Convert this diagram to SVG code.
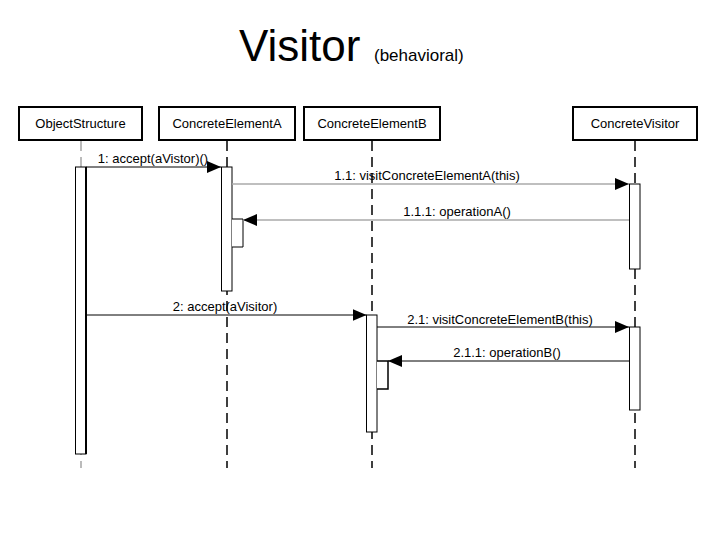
<svg xmlns="http://www.w3.org/2000/svg" width="720" height="540" viewBox="0 0 720 540">
<defs>
<style>
.box{fill:#fff;stroke:#000;stroke-width:2}
.lbl{font-family:"Liberation Sans",Arial,sans-serif;font-size:13px;fill:#000;text-anchor:middle}
.life{stroke:#000;stroke-width:1.5;stroke-dasharray:10 6;fill:none}
.lifeg{stroke:#bbb;stroke-width:2;stroke-dasharray:10 6;fill:none}
.act{fill:#fff;stroke:#000;stroke-width:1}
.msg{stroke:#000;stroke-width:1;fill:none}
.msgg{stroke:#aaa;stroke-width:1.5;fill:none}
</style>
<marker id="ah" viewBox="0 0 14 12" refX="14" refY="6" markerWidth="14" markerHeight="12" markerUnits="userSpaceOnUse" orient="auto">
<path d="M0,0 L14,6 L0,12 Z" fill="#000"/>
</marker>
</defs>
<rect width="720" height="540" fill="#fff"/>
<text x="239" y="61" font-family="Liberation Sans,Arial,sans-serif" font-size="44" fill="#000">Visitor</text>
<text x="374" y="61" font-family="Liberation Sans,Arial,sans-serif" font-size="17" fill="#000">(behavioral)</text>

<g id="lifelines">
<line class="lifeg" x1="81" y1="141" x2="81" y2="468"/>
<line class="life" x1="227" y1="141" x2="227" y2="468"/>
<line class="life" x1="372" y1="141" x2="372" y2="468"/>
<line class="life" x1="635" y1="141" x2="635" y2="468"/>
</g>

<g id="ObjectStructure">
<rect class="box" x="19" y="107" width="123" height="33"/>
<text class="lbl" x="80.5" y="127.5">ObjectStructure</text>
<rect class="act" x="75.5" y="167" width="10.5" height="287"/>
<line x1="86" y1="167" x2="86" y2="454" stroke="#000" stroke-width="2"/>
</g>
<g id="ConcreteElementA">
<rect class="box" x="159" y="107" width="136" height="33"/>
<text class="lbl" x="227" y="127.5">ConcreteElementA</text>
<rect class="act" x="221.5" y="167" width="10.5" height="124"/>
<polyline class="act" points="232,219 243,219 243,247 232,247"/>
</g>
<g id="ConcreteElementB">
<rect class="box" x="304" y="107" width="136" height="33"/>
<text class="lbl" x="372" y="127.5">ConcreteElementB</text>
<rect class="act" x="366.5" y="315" width="10.5" height="117"/>
<polyline points="377,361 388,361 388,389 377,389" fill="#fff" stroke="#000" stroke-width="1.5"/>
</g>
<g id="ConcreteVisitor">
<rect class="box" x="573" y="107" width="124" height="33"/>
<text class="lbl" x="635" y="127.5">ConcreteVisitor</text>
<rect class="act" x="629.5" y="184" width="10.5" height="85"/>
<rect class="act" x="629.5" y="327" width="10.5" height="83"/>
</g>

<g id="connectors">
<line class="msg" x1="86" y1="167" x2="221" y2="167" marker-end="url(#ah)"/>
<text class="lbl" x="153" y="163">1: accept(aVistor)()</text>
<line class="msgg" x1="232" y1="184" x2="629" y2="184" marker-end="url(#ah)"/>
<text class="lbl" x="427" y="180">1.1: visitConcreteElementA(this)</text>
<line class="msgg" x1="629" y1="220" x2="243" y2="220" marker-end="url(#ah)"/>
<text class="lbl" x="457" y="216">1.1.1: operationA()</text>
<line class="msg" x1="86" y1="315" x2="366.5" y2="315" marker-end="url(#ah)"/>
<text class="lbl" x="225" y="311">2: accept(aVisitor)</text>
<line class="msg" x1="377" y1="327" x2="629" y2="327" marker-end="url(#ah)"/>
<text class="lbl" x="500" y="324">2.1: visitConcreteElementB(this)</text>
<line class="msg" x1="629" y1="361" x2="388" y2="361" marker-end="url(#ah)"/>
<text class="lbl" x="507" y="357">2.1.1: operationB()</text>
</g>
</svg>
